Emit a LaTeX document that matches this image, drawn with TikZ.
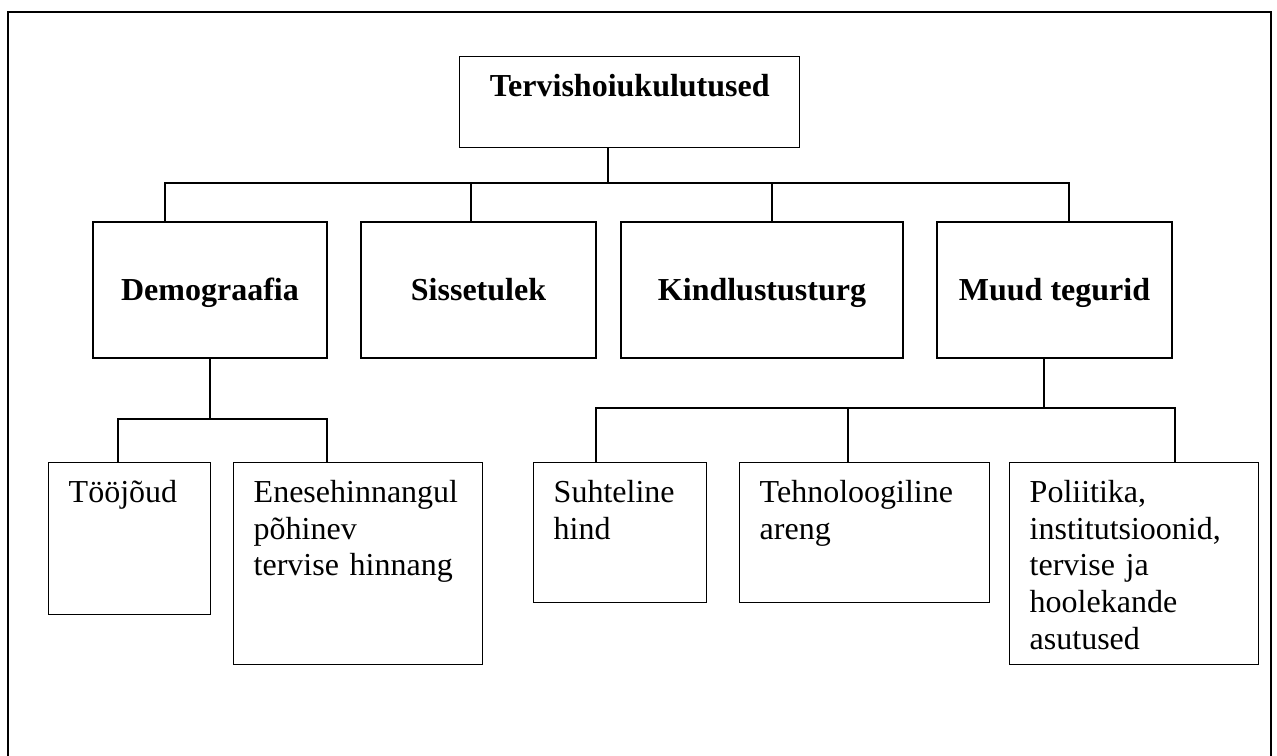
\documentclass[tikz,border=0pt]{standalone}
\usepackage{fontspec}
\setmainfont{Liberation Serif}
\newcommand{\boxfont}{\fontsize{16pt}{18.3pt}\selectfont}
\begin{document}
\begin{tikzpicture}[x=0.5pt, y=-0.5pt, line width=0.7pt,
    head/.style={draw, anchor=north west, inner xsep=10pt, inner ysep=8pt, text height=12pt, align=center, font=\boxfont\bfseries},
    factor/.style={draw, inner sep=0pt, minimum height=68pt, text height=12pt, text depth=2pt, font=\boxfont\bfseries},
    leaf/.style={draw, anchor=north west, inner xsep=10pt, inner ysep=8pt, text height=12pt, align=left, font=\boxfont}]

\useasboundingbox (0,0) rectangle (1277,755);
\clip (0,0) rectangle (1277,755);
\draw[line width=1.1pt] (8,12) rectangle (1271,790);

\node[head, text width=150pt, text depth=17.5pt] (root) at (459,56) {Tervishoiukulutused};

\node[factor, minimum width=117pt] (demo) at (210,290) {Demograafia};
\node[factor, minimum width=117.5pt] (income) at (478.5,290) {Sissetulek};
\node[factor, minimum width=141pt] (market) at (762,290) {Kindlustusturg};
\node[factor, minimum width=117.5pt] (other) at (1054.5,290) {Muud tegurid};

\node[leaf, text width=61pt, text depth=48pt] (labour) at (48,462) {Tööjõud};
\node[leaf, text width=104.5pt, text depth=73pt] (selfrated) at (233,462) {Enesehinnangul\\põhinev\\tervise hinnang};
\node[leaf, text width=66.5pt, text depth=42pt] (price) at (533,462) {Suhteline\\hind};
\node[leaf, text width=105pt, text depth=42pt] (tech) at (739,462) {Tehnoloogiline\\areng};
\node[leaf, text width=104.5pt, text depth=73pt] (policy) at (1009,462) {Poliitika,\\institutsioonid,\\tervise ja\\hoolekande\\asutused};

% first level
\draw (root.south -| 608,0) -- (608,183);
\draw (demo.north -| 165,0) -- (165,183) -- (1069,183) -- (other.north -| 1069,0);
\draw (income.north -| 471,0) -- (471,183);
\draw (market.north -| 772,0) -- (772,183);

% Demograafia
\draw (demo.south) -- (210,419);
\draw (labour.north -| 118,0) -- (118,419) -- (327,419) -- (selfrated.north -| 327,0);

% Muud tegurid
\draw (other.south -| 1044,0) -- (1044,408);
\draw (price.north -| 596,0) -- (596,408) -- (1175,408) -- (policy.north -| 1175,0);
\draw (tech.north -| 848,0) -- (848,408);
\end{tikzpicture}
\end{document}
